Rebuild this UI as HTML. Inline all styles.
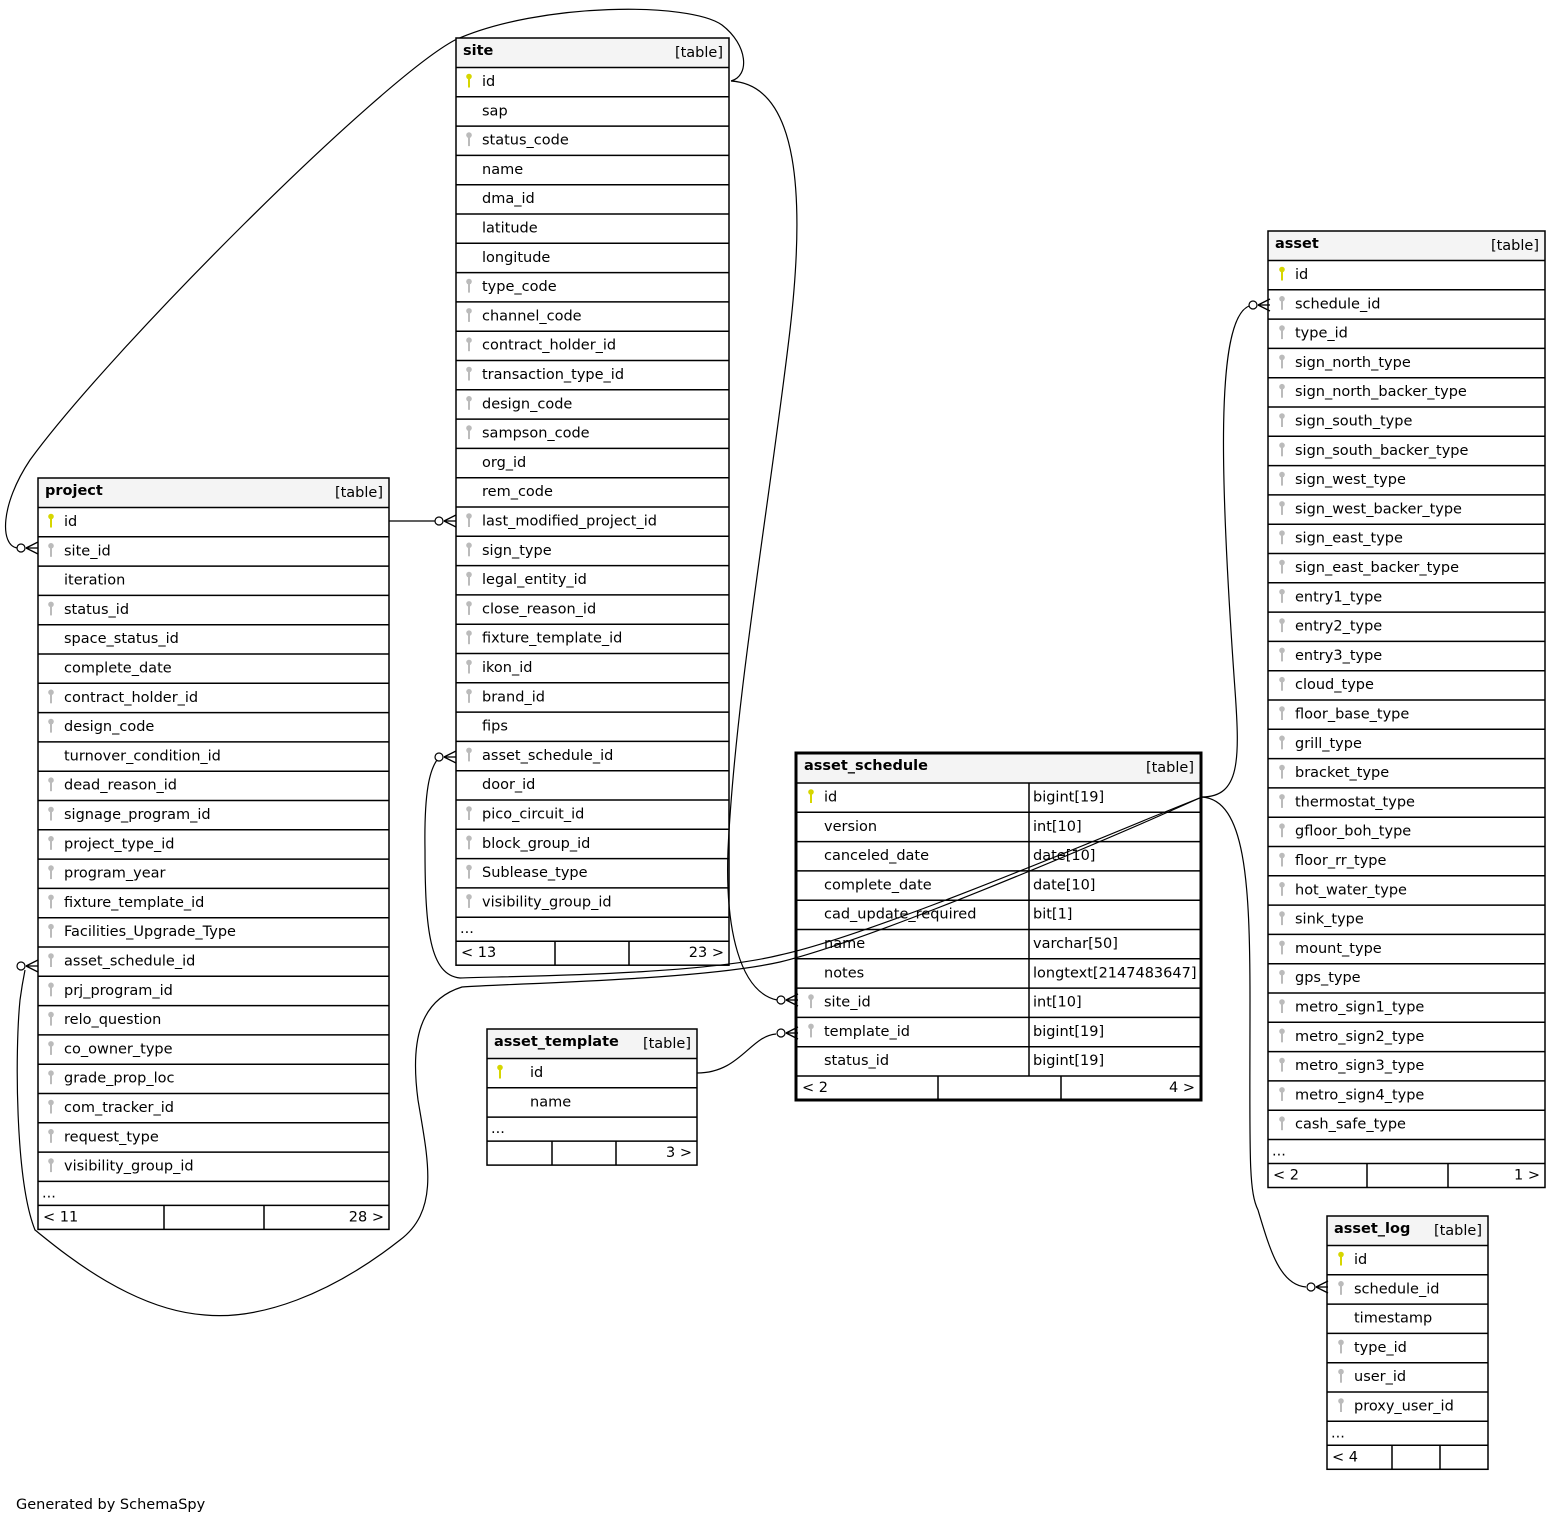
<!DOCTYPE html>
<html><head><meta charset="utf-8">
<style>
html,body{margin:0;padding:0;background:#fff;}
svg{display:block;font-family:"DejaVu Sans","Liberation Sans",sans-serif;}
</style></head>
<body>
<svg id="s" width="1562" height="1524" viewBox="0 0 1562 1524" xmlns="http://www.w3.org/2000/svg">
<rect width="1562" height="1524" fill="#fff"/>
<g id="edges" fill="none" stroke="#000" stroke-width="1.2">
<path d="M731,81 C750,76 748,45 722,25 C690,2 540,2 455,40 C380,80 110,350 30,460 C0,505 0,545 17,548"/>
<path d="M731,81 C800,85 805,200 790,330 C770,500 735,700 728,850 C725,930 740,992 777,1000"/>
<path d="M389,521 L435,521"/>
<path d="M1202,797 L1150,818 C1000,880 850,940 780,955 C700,975 520,976 460,978 C430,975 425,930 425,850 C424,790 430,770 437,760"/>
<path d="M1202,797 L1150,820 C1000,885 850,945 780,962 C700,980 520,983 462,987 C420,1000 410,1040 418,1100 C428,1160 440,1210 400,1240 C330,1295 260,1320 205,1315 C130,1310 60,1250 35,1230 C15,1180 15,1050 20,1000 C22,985 24,975 25,970"/>
<path d="M1202,797 C1240,797 1240,760 1235,690 C1220,480 1215,320 1249,306"/>
<path d="M1202,797 C1245,800 1250,880 1250,1000 C1250,1150 1248,1190 1258,1210 C1270,1250 1280,1285 1306,1287"/>
<path d="M697,1073 C740,1073 750,1036 776,1034"/>
</g>
<g id="tables"></g>
<text x="16" y="1509" font-size="14.5">Generated by SchemaSpy</text>
</svg>
<script>
const NS="http://www.w3.org/2000/svg";
const G=document.getElementById('tables');
const FS=14.5;
function el(t,a,txt,p){const e=document.createElementNS(NS,t);for(const k in a)e.setAttribute(k,a[k]);if(txt!=null)e.textContent=txt;(p||G).appendChild(e);return e;}
function key(x,y,c){el('circle',{cx:x,cy:y-4,r:2.8,fill:c});el('rect',{x:x-1,y:y-4,width:2,height:11,fill:c});}
const RH=29.3;
function table(o){
 const {x,y,w,name,rows,l,r,tx,kx}=o;
 const hh=o.hh||29.5;
 let cy=y+hh;
 const n=rows.length;
 const bodyEnd=cy+n*RH;
 const h=bodyEnd+24+24-y;
 el('rect',{x:x,y:y,width:w,height:hh,fill:'#f4f4f4'});
 el('text',{x:x+7,y:y+17,'font-size':FS,'font-weight':'bold'},name);
 el('text',{x:x+w-6,y:y+19,'font-size':FS,'text-anchor':'end'},'[table]');
 rows.forEach((rw,i)=>{
  const ty=cy+i*RH;
  el('line',{x1:x,y1:ty,x2:x+w,y2:ty,stroke:'#000','stroke-width':1.5});
  if(rw[1]==='p')key(kx,ty+13,'#d6d600');
  else if(rw[1]==='f')key(kx,ty+13,'#bbb');
  el('text',{x:tx,y:ty+18.5,'font-size':FS},rw[0]);
 });
 el('line',{x1:x,y1:bodyEnd,x2:x+w,y2:bodyEnd,stroke:'#000','stroke-width':1.5});
 el('text',{x:x+4,y:bodyEnd+16,'font-size':FS},'...');
 const fy=bodyEnd+24;
 el('line',{x1:x,y1:fy,x2:x+w,y2:fy,stroke:'#000','stroke-width':1.5});
 el('text',{x:x+5,y:fy+16,'font-size':FS},l);
 el('text',{x:x+w-5,y:fy+16,'font-size':FS,'text-anchor':'end'},r);
 o.div.forEach(d=>el('line',{x1:d,y1:fy,x2:d,y2:fy+24,stroke:'#000','stroke-width':1.5}));
 el('rect',{x:x,y:y,width:w,height:h,fill:'none',stroke:'#000','stroke-width':1.5});
}
const P=(s)=>s.split(',').map(t=>{const m=t.split(':');return [m[0],m[1]||''];});
table({x:456,y:38,w:273,name:'site',tx:482,kx:469,l:'< 13',r:'23 >',div:[555,629],
 rows:P('id:p,sap,status_code:f,name,dma_id,latitude,longitude,type_code:f,channel_code:f,contract_holder_id:f,transaction_type_id:f,design_code:f,sampson_code:f,org_id,rem_code,last_modified_project_id:f,sign_type:f,legal_entity_id:f,close_reason_id:f,fixture_template_id:f,ikon_id:f,brand_id:f,fips,asset_schedule_id:f,door_id,pico_circuit_id:f,block_group_id:f,Sublease_type:f,visibility_group_id:f')});
table({x:38,y:478,w:351,name:'project',tx:64,kx:51,l:'< 11',r:'28 >',div:[164,264],
 rows:P('id:p,site_id:f,iteration,status_id:f,space_status_id,complete_date,contract_holder_id:f,design_code:f,turnover_condition_id,dead_reason_id:f,signage_program_id:f,project_type_id:f,program_year:f,fixture_template_id:f,Facilities_Upgrade_Type:f,asset_schedule_id:f,prj_program_id:f,relo_question:f,co_owner_type:f,grade_prop_loc:f,com_tracker_id:f,request_type:f,visibility_group_id:f')});
table({x:1268,y:231,w:277,name:'asset',tx:1295,kx:1282,l:'< 2',r:'1 >',div:[1367,1448],
 rows:P('id:p,schedule_id:f,type_id:f,sign_north_type:f,sign_north_backer_type:f,sign_south_type:f,sign_south_backer_type:f,sign_west_type:f,sign_west_backer_type:f,sign_east_type:f,sign_east_backer_type:f,entry1_type:f,entry2_type:f,entry3_type:f,cloud_type:f,floor_base_type:f,grill_type:f,bracket_type:f,thermostat_type:f,gfloor_boh_type:f,floor_rr_type:f,hot_water_type:f,sink_type:f,mount_type:f,gps_type:f,metro_sign1_type:f,metro_sign2_type:f,metro_sign3_type:f,metro_sign4_type:f,cash_safe_type:f')});
table({x:487,y:1029,w:210,name:'asset_template',tx:530,kx:500,l:'',r:'3 >',div:[552,616],
 rows:P('id:p,name')});
table({x:1327,y:1216,w:161,name:'asset_log',tx:1354,kx:1341,l:'< 4',r:'',div:[1392,1440],
 rows:P('id:p,schedule_id:f,timestamp,type_id:f,user_id:f,proxy_user_id:f')});
(function(){
 const x=796,y=753,w=405,hh=30,typeX=1029;
 el('rect',{x:x,y:y,width:w,height:hh,fill:'#f4f4f4'});
 el('text',{x:x+8,y:y+17,'font-size':FS,'font-weight':'bold'},'asset_schedule');
 el('text',{x:x+w-7,y:y+19,'font-size':FS,'text-anchor':'end'},'[table]');
 const rows=[['id','p','bigint[19]'],['version','','int[10]'],['canceled_date','','date[10]'],['complete_date','','date[10]'],['cad_update_required','','bit[1]'],['name','','varchar[50]'],['notes','','longtext[2147483647]'],['site_id','f','int[10]'],['template_id','f','bigint[19]'],['status_id','','bigint[19]']];
 const cy=y+hh;
 rows.forEach((r,i)=>{const ty=cy+i*RH;
  el('line',{x1:x,y1:ty,x2:x+w,y2:ty,stroke:'#000','stroke-width':1.5});
  if(r[1]==='p')key(811,ty+13,'#d6d600');else if(r[1]==='f')key(811,ty+13,'#bbb');
  el('text',{x:824,y:ty+18.5,'font-size':FS},r[0]);
  el('text',{x:typeX+4,y:ty+18.5,'font-size':FS},r[2]);});
 const be=cy+rows.length*RH;
 el('line',{x1:typeX,y1:cy,x2:typeX,y2:be,stroke:'#000','stroke-width':1.5});
 el('line',{x1:x,y1:be,x2:x+w,y2:be,stroke:'#000','stroke-width':1.5});
 el('text',{x:x+6,y:be+16,'font-size':FS},'< 2');
 el('text',{x:x+w-6,y:be+16,'font-size':FS,'text-anchor':'end'},'4 >');
 [938,1061].forEach(d=>el('line',{x1:d,y1:be,x2:d,y2:be+24,stroke:'#000','stroke-width':1.5}));
 el('rect',{x:x,y:y,width:w,height:be+24-y,fill:'none',stroke:'#000','stroke-width':3});
})();
function crow(xe,y,dir){
 const d=dir;
 el('line',{x1:xe-d*12,y1:y,x2:xe,y2:y-6,stroke:'#000','stroke-width':1.3});
 el('line',{x1:xe-d*12,y1:y,x2:xe,y2:y,stroke:'#000','stroke-width':1.3});
 el('line',{x1:xe-d*12,y1:y,x2:xe,y2:y+6,stroke:'#000','stroke-width':1.3});
 el('circle',{cx:xe-d*17,cy:y,r:4,fill:'#fff',stroke:'#000','stroke-width':1.2});
}
crow(456,521,1); crow(38,548,1); crow(456,757,1);crow(38,966,1);
crow(798,1000,1); crow(798,1033,1); crow(1270,305,1); crow(1328,1287,1);
</script>
</body></html>
